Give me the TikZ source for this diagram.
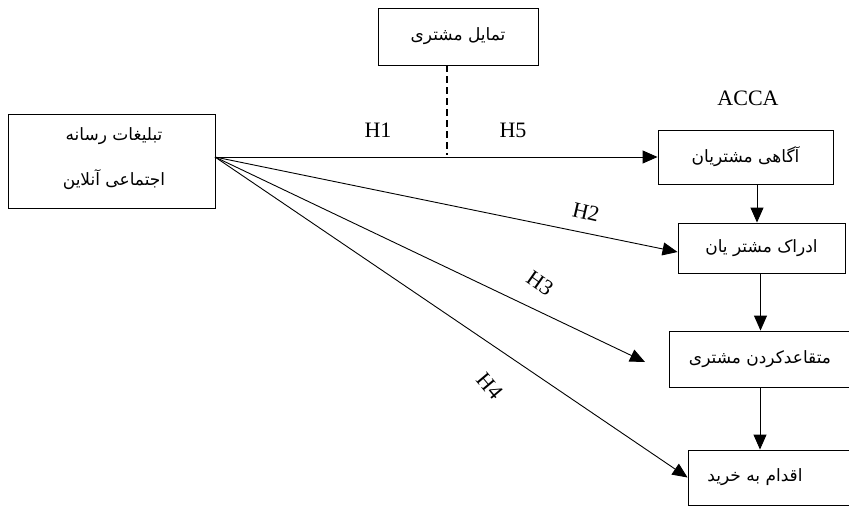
\documentclass[tikz,border=0pt]{standalone}
\usepackage{fontspec}
\setmainfont{Liberation Serif}
\newfontfamily\fa[Script=Arabic]{DejaVu Sans}
\TeXXeTstate=1
\usetikzlibrary{arrows.meta}
\tikzset{
  box/.style={draw, line width=0.9pt, rectangle, inner sep=0pt},
  fatext/.style={font=\fa\fontsize{17}{19}\selectfont},
  arr/.style={line width=0.9pt, -{Triangle[length=15pt,width=13pt]}},
  hlab/.style={font=\fontsize{22}{24}\selectfont, inner sep=0pt},
}
\begin{document}
\begin{tikzpicture}[x=1pt,y=-1pt]
\useasboundingbox (0,0) rectangle (849,507);
% boxes
\node[box, minimum width=207pt, minimum height=94pt] (src) at (111.5,161) {};
\node[fatext] (srct1) at (114,136) {\beginR تبلیغات رسانه\endR};
\node[fatext] (srct2) at (114,180) {\beginR اجتماعی آنلاین\endR};
\node[box, fatext, minimum width=160pt, minimum height=57pt] (mod) at (458,36.5) {\beginR تمایل مشتری\endR};
\node[box, fatext, minimum width=175pt, minimum height=54pt] (b1) at (745.5,157) {\beginR آگاهی مشتریان\endR};
\node[box, fatext, minimum width=167pt, minimum height=50pt] (b2) at (761.5,248) {\beginR ادراک مشتر یان\endR};
\node[box, minimum width=183pt, minimum height=56pt] (b3) at (760.5,359) {};
\node[fatext] (b3t) at (760,359) {\beginR متقاعدکردن مشتری\endR};
\node[box, minimum width=164pt, minimum height=55pt] (b4) at (770,477.5) {};
\node[fatext] (b4t) at (755,477.5) {\beginR اقدام به خرید\endR};
% connectors
\coordinate (s) at (215,157);
\coordinate (h3end) at (645,362);
\coordinate (modend) at (447,155);
\draw[line width=1.1pt, dash pattern=on 7pt off 4pt] (mod.south -| modend) -- (modend);
\draw[arr] (s) -- (b1.west);
\draw[arr] (s) -- ([yshift=-4pt]b2.west);
\draw[arr] (s) -- (h3end);
\draw[arr] (s) -- (b4.west);
\draw[arr] ([xshift=11.5pt]b1.south) -- ([xshift=11.5pt]b1.south |- b2.north);
\draw[arr] ([xshift=-1pt]b2.south) -- ([xshift=-1pt]b2.south |- b3.north);
\draw[arr] ([xshift=-0.5pt]b3.south) -- ([xshift=-0.5pt]b3.south |- b4.north);
% labels
\node[hlab] (h1) at (378,130) {H1};
\node[hlab] (h5) at (513,130) {H5};
\node[hlab] (acca) at (748,98) {ACCA};
\node[hlab, rotate=-13] (h2) at (586,212) {H2};
\node[hlab, rotate=-35] (h3) at (540,283) {H3};
\node[hlab, rotate=-50] (h4) at (490,386) {H4};
\end{tikzpicture}
\end{document}
